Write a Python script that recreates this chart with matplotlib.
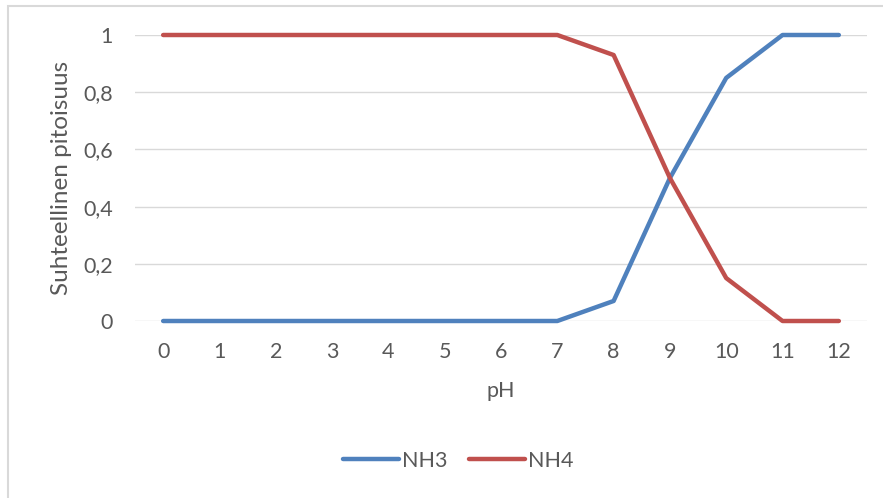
import matplotlib
matplotlib.use("Agg")
import matplotlib.pyplot as plt
from matplotlib.patches import Rectangle
from matplotlib.ticker import FuncFormatter

ph = list(range(13))
nh3 = [0, 0, 0, 0, 0, 0, 0, 0, 0.07, 0.5, 0.85, 1, 1]
nh4 = [1, 1, 1, 1, 1, 1, 1, 1, 0.93, 0.5, 0.15, 0, 0]

txt = "#595959"
grid = "#D9D9D9"
fs = 15.5
plt.rcParams["font.family"] = ["Lato", "DejaVu Sans"]
plt.rcParams["font.size"] = fs

fig = plt.figure(figsize=(8.83, 4.98), dpi=100)
ax = fig.add_axes([135 / 883, 1 - 321 / 498, 732 / 883, 286 / 498])

ax.plot(ph, nh3, color="#4F81BD", lw=3.2, solid_capstyle="round",
        solid_joinstyle="round", label="NH3", clip_on=False, zorder=3)
ax.plot(ph, nh4, color="#C0504D", lw=3.2, solid_capstyle="round",
        solid_joinstyle="round", label="NH4", clip_on=False, zorder=3)

ax.set_xlim(-0.5, 12.5)
ax.set_ylim(0, 1)
ax.set_xticks(ph)
ax.set_yticks([0, 0.2, 0.4, 0.6, 0.8, 1])
ax.yaxis.set_major_formatter(FuncFormatter(
    lambda v, p: "%g" % round(v, 1) if v in (0, 1) else ("%.1f" % v).replace(".", ",")))
ax.grid(axis="y", color=grid, lw=1.0)
ax.set_axisbelow(True)
for s in ax.spines.values():
    s.set_visible(False)
ax.tick_params(length=0, colors=txt, labelsize=fs)
ax.tick_params(axis="y", pad=16)
ax.tick_params(axis="x", pad=15)

ax.set_xlabel("pH", color=txt, fontsize=fs, labelpad=14)
ax.set_ylabel("Suhteellinen pitoisuus", color=txt, fontsize=17.5, labelpad=8)

leg = fig.legend(loc="center", bbox_to_anchor=(458 / 883, 1 - 461 / 498), ncol=2,
                 frameon=False, handlelength=2.6, handletextpad=0.15,
                 columnspacing=1.0, fontsize=fs)
for t in leg.get_texts():
    t.set_color(txt)

# chart frame
fig.patches.append(Rectangle((8 / 883, -0.2), 1.2, 1.2 - 6 / 498, transform=fig.transFigure,
                             fill=False, edgecolor=grid, lw=1.5))

fig.savefig("out.png", dpi=100)
